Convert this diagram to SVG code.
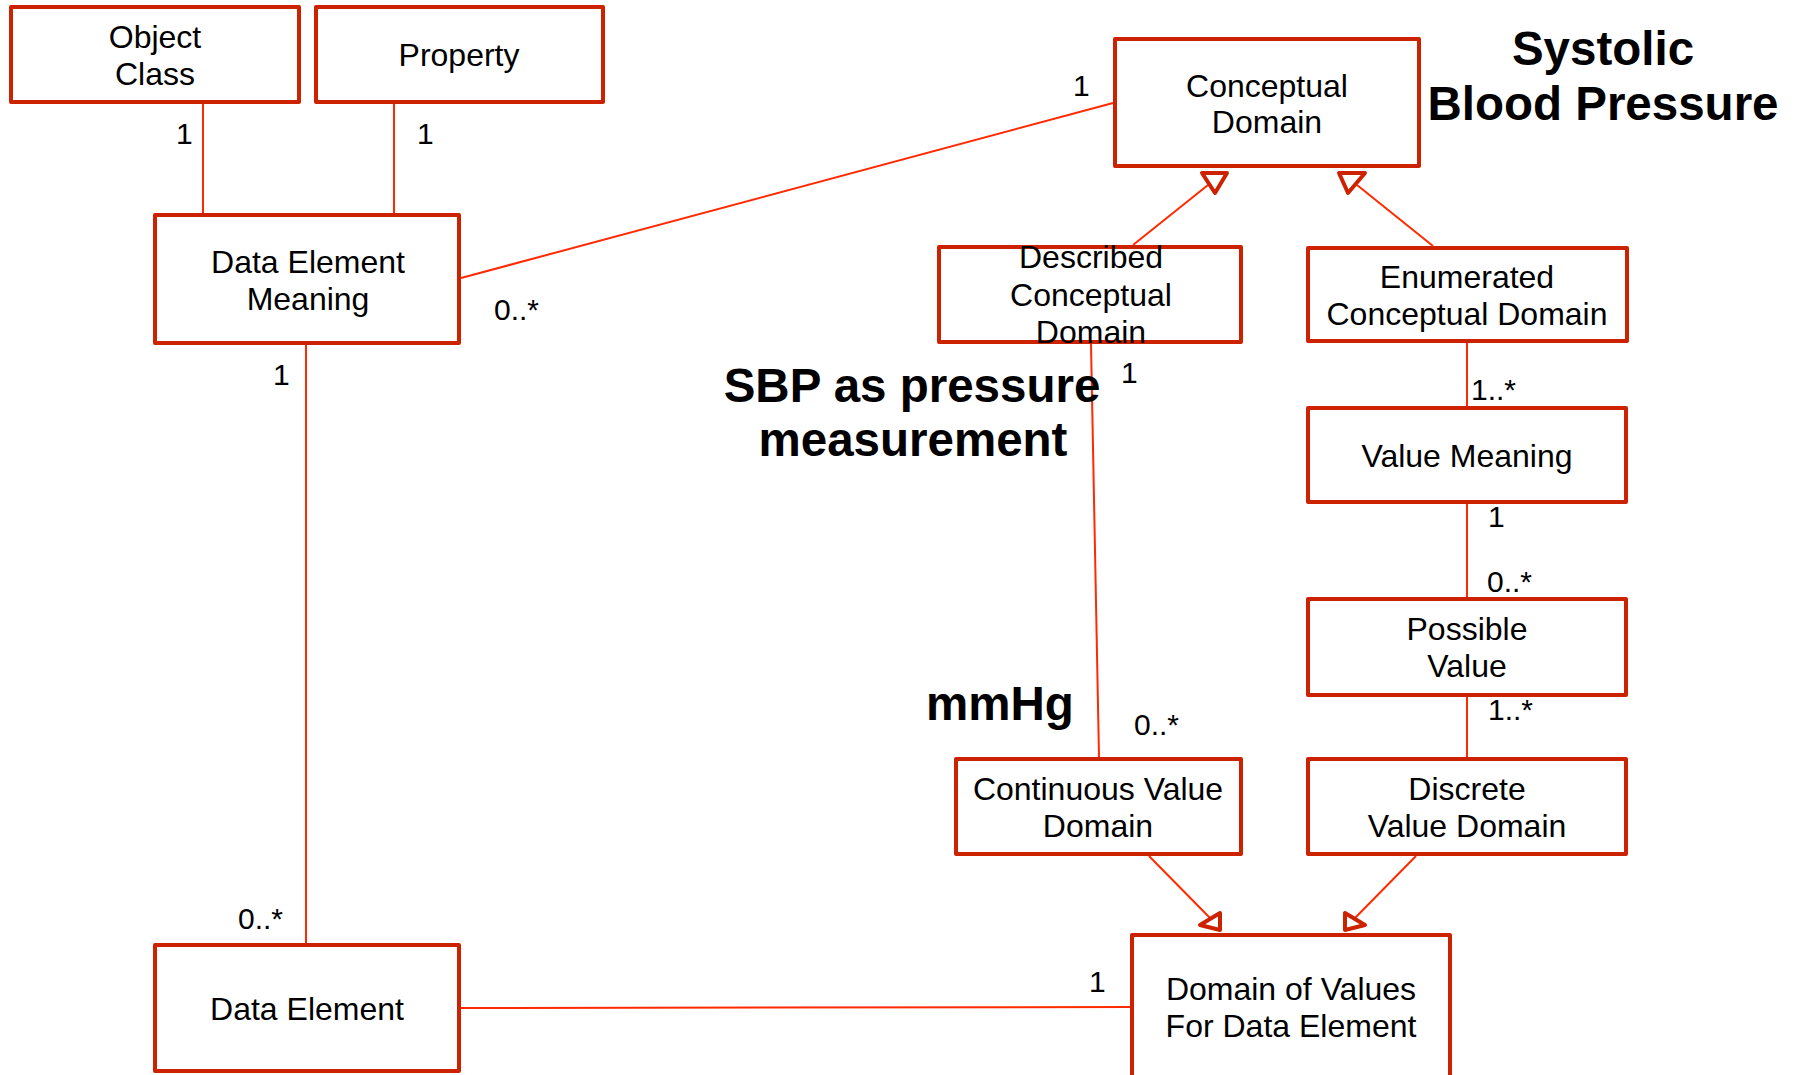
<svg xmlns="http://www.w3.org/2000/svg" width="1798" height="1075" viewBox="0 0 1798 1075">
  <style>
    .box { fill: #ffffff; stroke: #cc2200; stroke-width: 4; stroke-linejoin: round; }
    .link { fill: none; stroke: #ff2a00; stroke-width: 2; }
    .head { fill: #ffffff; stroke: #cc2200; stroke-width: 4; stroke-linejoin: round; }
    .lbl { font-family: "Liberation Sans", Arial, sans-serif; font-size: 32px; fill: #000000; text-anchor: middle; }
    .mult { font-family: "Liberation Sans", Arial, sans-serif; font-size: 30px; fill: #000000; }
    .note { font-family: "Liberation Sans", Arial, sans-serif; font-size: 47.5px; font-weight: bold; fill: #000000; text-anchor: middle; }
  </style>
  <rect width="1798" height="1075" fill="#ffffff"/>

  <!-- associations and generalizations -->
  <g id="connectors">
    <line class="link" x1="203" y1="104" x2="203" y2="213"/>
    <line class="link" x1="394" y1="104" x2="394" y2="213"/>
    <line class="link" x1="461" y1="278" x2="1113" y2="103"/>
    <line class="link" x1="306" y1="345" x2="306" y2="943"/>
    <line class="link" x1="461" y1="1008" x2="1130" y2="1007"/>
    <line class="link" x1="1133" y1="245" x2="1208" y2="185"/>
    <polygon class="head" points="1202,173 1227,173 1215,193"/>
    <line class="link" x1="1433" y1="246" x2="1357" y2="185"/>
    <polygon class="head" points="1339,173 1365,173 1348,193"/>
    <line class="link" x1="1091" y1="344" x2="1099" y2="757"/>
    <line class="link" x1="1467" y1="343" x2="1467" y2="406"/>
    <line class="link" x1="1467" y1="504" x2="1467" y2="597"/>
    <line class="link" x1="1467" y1="697" x2="1467" y2="757"/>
    <line class="link" x1="1149" y1="856" x2="1210" y2="918"/>
    <polygon class="head" points="1220,913 1220,930 1200,925"/>
    <line class="link" x1="1416" y1="856" x2="1355" y2="918"/>
    <polygon class="head" points="1345,913 1345,930 1365,925"/>
  </g>

  <!-- multiplicities -->
  <g id="multiplicities">
    <text class="mult" x="176" y="144">1</text>
    <text class="mult" x="417" y="144">1</text>
    <text class="mult" x="494" y="320">0..*</text>
    <text class="mult" x="273" y="385">1</text>
    <text class="mult" x="1073" y="96">1</text>
    <text class="mult" x="1121" y="383">1</text>
    <text class="mult" x="1471" y="400">1..*</text>
    <text class="mult" x="1488" y="527">1</text>
    <text class="mult" x="1487" y="592">0..*</text>
    <text class="mult" x="1488" y="720">1..*</text>
    <text class="mult" x="1134" y="735">0..*</text>
    <text class="mult" x="1089" y="992">1</text>
    <text class="mult" x="238" y="929">0..*</text>
  </g>

  <g id="object-class">
    <rect class="box" x="11" y="7" width="288" height="95"/>
    <text class="lbl" x="155" y="48">Object</text>
    <text class="lbl" x="155" y="85">Class</text>
  </g>
  <g id="property">
    <rect class="box" x="316" y="7" width="287" height="95"/>
    <text class="lbl" x="459" y="66">Property</text>
  </g>
  <g id="data-element-meaning">
    <rect class="box" x="155" y="215" width="304" height="128"/>
    <text class="lbl" x="308" y="273">Data Element</text>
    <text class="lbl" x="308" y="310">Meaning</text>
  </g>
  <g id="conceptual-domain">
    <rect class="box" x="1115" y="39" width="304" height="127"/>
    <text class="lbl" x="1267" y="97">Conceptual</text>
    <text class="lbl" x="1267" y="133">Domain</text>
  </g>
  <g id="described-conceptual-domain">
    <rect class="box" x="939" y="247" width="302" height="95"/>
    <text class="lbl" x="1091" y="268">Described</text>
    <text class="lbl" x="1091" y="306">Conceptual</text>
    <text class="lbl" x="1091" y="343">Domain</text>
  </g>
  <g id="enumerated-conceptual-domain">
    <rect class="box" x="1308" y="248" width="319" height="93"/>
    <text class="lbl" x="1467" y="288">Enumerated</text>
    <text class="lbl" x="1467" y="325">Conceptual Domain</text>
  </g>
  <g id="value-meaning">
    <rect class="box" x="1308" y="408" width="318" height="94"/>
    <text class="lbl" x="1467" y="467">Value Meaning</text>
  </g>
  <g id="possible-value">
    <rect class="box" x="1308" y="599" width="318" height="96"/>
    <text class="lbl" x="1467" y="640">Possible</text>
    <text class="lbl" x="1467" y="677">Value</text>
  </g>
  <g id="continuous-value-domain">
    <rect class="box" x="956" y="759" width="285" height="95"/>
    <text class="lbl" x="1098" y="800">Continuous Value</text>
    <text class="lbl" x="1098" y="837">Domain</text>
  </g>
  <g id="discrete-value-domain">
    <rect class="box" x="1308" y="759" width="318" height="95"/>
    <text class="lbl" x="1467" y="800">Discrete</text>
    <text class="lbl" x="1467" y="837">Value Domain</text>
  </g>
  <g id="domain-of-values">
    <rect class="box" x="1132" y="935" width="318" height="170"/>
    <text class="lbl" x="1291" y="1000">Domain of Values</text>
    <text class="lbl" x="1291" y="1037">For Data Element</text>
  </g>
  <g id="data-element">
    <rect class="box" x="155" y="945" width="304" height="126"/>
    <text class="lbl" x="307" y="1020">Data Element</text>
  </g>

  <!-- annotations -->
  <g id="annotations">
    <text class="note" x="1603" y="65">Systolic</text>
    <text class="note" x="1603" y="120">Blood Pressure</text>
    <text class="note" x="912" y="402">SBP as pressure</text>
    <text class="note" x="913" y="456">measurement</text>
    <text class="note" x="1000" y="720">mmHg</text>
  </g>
</svg>
